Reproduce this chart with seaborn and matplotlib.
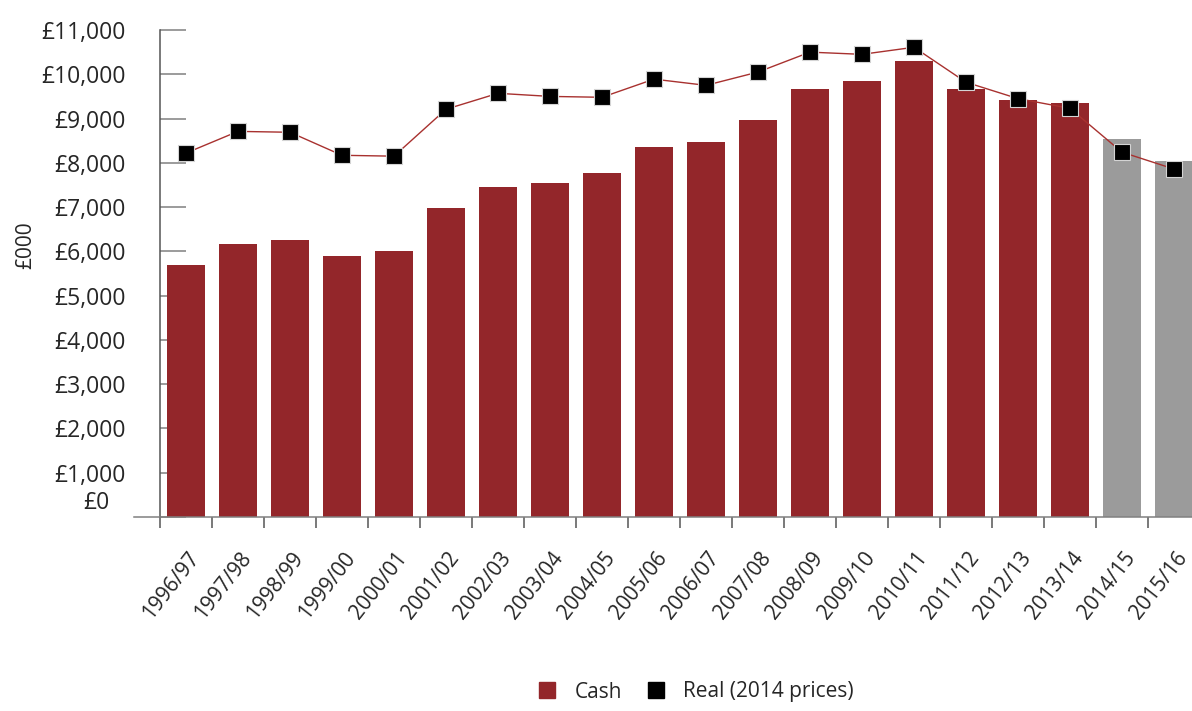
import numpy as np
import matplotlib.pyplot as plt
import matplotlib.transforms as mtransforms
from matplotlib.lines import Line2D
import seaborn as sns

# values in £000
years = ["1996/97", "1997/98", "1998/99", "1999/00", "2000/01", "2001/02",
         "2002/03", "2003/04", "2004/05", "2005/06", "2006/07", "2007/08",
         "2008/09", "2009/10", "2010/11", "2011/12", "2012/13", "2013/14",
         "2014/15", "2015/16"]
cash = [5690, 6160, 6250, 5890, 6000, 6980, 7450, 7540, 7770, 8350,
        8470, 8960, 9660, 9840, 10290, 9660, 9410, 9350, 8530, 8040]
real = [8220, 8710, 8690, 8170, 8150, 9210, 9570, 9500, 9480, 9890,
        9750, 10050, 10500, 10450, 10610, 9820, 9450, 9230, 8240, 7860]
forecast = ["2014/15", "2015/16"]
ytick_vals = list(range(0, 12000, 1000))
ytick_labels = ["£0"] + [f"£{v:,}" for v in ytick_vals[1:]]

RED = "#93262a"
GREY = "#9b9b9b"
LINE = "#a8312f"

sns.set_style("white")
plt.rcParams["font.family"] = ["Open Sans", "DejaVu Sans"]

W, H = 1192, 711
fig = plt.figure(figsize=(W / 100, H / 100), dpi=100)
ax = fig.add_axes([160 / W, 1 - 517 / H, 1032 / W, 487 / H])

palette = [GREY if y in forecast else RED for y in years]
sns.barplot(x=years, y=cash, hue=years, palette=palette, legend=False,
            width=0.73, saturation=1, linewidth=0, ax=ax, zorder=2)
sns.pointplot(x=years, y=real, color=LINE, markers="s", linewidth=1.0,
              markersize=11.5, markerfacecolor="black",
              markeredgecolor="#d4d4d4", markeredgewidth=0.8,
              errorbar=None, ax=ax, zorder=3)

ax.set_axisbelow(True)

# y axis
ax.set_yticks(ytick_vals)
ax.set_yticklabels(ytick_labels)
ax.tick_params(axis="y", direction="in", length=18.7, width=1.1,
               color="#808080", pad=25, labelsize=16.5, left=True)
offset = mtransforms.ScaledTranslation(-0.16, 0.17, fig.dpi_scale_trans)
lab0 = ax.get_yticklabels()[0]
lab0.set_transform(lab0.get_transform() + offset)

# x axis: labels at centres, tick marks at category boundaries
ax.set_xticks(range(len(years)))
ax.set_xticklabels(years, rotation=52, ha="right", va="top",
                   rotation_mode="anchor")
ax.set_xticks(np.arange(-0.5, len(years), 1.0), minor=True)
ax.tick_params(axis="x", which="major", length=0, pad=22, labelsize=15)
ax.tick_params(axis="x", which="minor", direction="out", length=8,
               width=1.1, color="#555555", bottom=True)
xoff = mtransforms.ScaledTranslation(0.01, 0, fig.dpi_scale_trans)
for lab in ax.get_xticklabels():
    lab.set_transform(lab.get_transform() + xoff)

ax.set_ylim(0, 11000)
ax.set_xlim(-0.5, -0.5 + 1032 / 52)

for s in ["top", "right"]:
    ax.spines[s].set_visible(False)
ax.spines["left"].set_color("#555555")
ax.spines["left"].set_linewidth(1.1)
ax.spines["bottom"].set_color("#808080")
ax.spines["bottom"].set_linewidth(1.1)
ax.spines["bottom"].set_bounds(-1.0, 19.5)

ax.set_xlabel("")
ax.set_ylabel("£000", fontsize=15)
ax.yaxis.set_label_coords((36 - 160) / 1032, (517 - 245) / 487)

handles = [
    Line2D([], [], marker="s", linestyle="none", markersize=11.5,
           markerfacecolor=RED, markeredgecolor=RED),
    Line2D([], [], marker="s", linestyle="none", markersize=11.5,
           markerfacecolor="black", markeredgecolor="black"),
]
fig.legend(handles, ["Cash", "Real (2014 prices)"], loc="center",
           bbox_to_anchor=(695.5 / W, 1 - 692 / H), ncol=2, frameon=False,
           fontsize=15, handletextpad=0.8, columnspacing=1.15,
           handlelength=1.0)

fig.savefig("out.png", dpi=100)
